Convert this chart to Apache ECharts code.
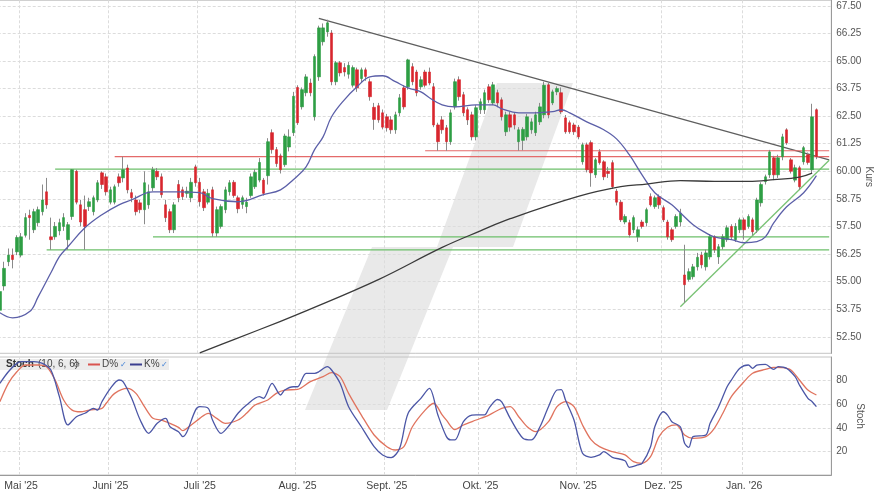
<!DOCTYPE html>
<html><head><meta charset="utf-8">
<script src="https://cdn.jsdelivr.net/npm/echarts@6/dist/echarts.min.js"></script>
<style>html,body{margin:0;padding:0;background:#fff}#c{width:880px;height:495px}</style>
</head><body><div id="c"></div>
<script>
// ---------- DATA ----------
const firstDay = '2025-04-24';
const lastDay = '2026-01-30';
const holidays = ['2025-05-01','2025-12-24','2025-12-25','2025-12-26','2025-12-31','2026-01-01'];
const monthLabels = {'2025-05':"Mai '25",'2025-06':"Juni '25",'2025-07':"Juli '25",'2025-08':"Aug. '25",
  '2025-09':"Sept. '25",'2025-10':"Okt. '25",'2025-11':"Nov. '25",'2025-12':"Dez. '25",'2026-01':"Jan. '26"};
const priceTicks = [52.5,53.75,55,56.25,57.5,58.75,60,61.25,62.5,63.75,65,66.25,67.5];
const stochTicks = [20,40,60,80];

// [open, high, low, close]
const ohlc = [
[53.7,54.8,53.3,54.55],[54.8,55.9,54.6,55.6],[55.9,56.5,55.7,56.2],[56.2,56.5,55.6,56.0],[56.35,57.1,56.2,57.0],
[56.2,57.2,56.1,57.03],[57.1,58.1,57.0,57.9],[58.0,58.26,56.9,57.9],[57.35,58.3,57.2,58.17],[57.67,58.4,57.5,58.26],
[58.17,59.4,58.0,58.7],[59.07,59.7,58.3,58.48],[57.03,57.9,56.44,56.9],[57.03,57.7,56.9,57.5],[57.3,57.85,57.1,57.67],
[57.5,58.1,57.3,57.9],[56.9,57.7,56.44,57.58],[57.95,60.1,57.8,60.07],[60.0,60.07,58.5,58.6],[58.48,58.7,57.5,57.7],
[58.26,58.9,56.44,57.5],[58.4,58.8,58.2,58.62],[58.17,58.9,58.0,58.8],[58.7,59.6,58.6,59.48],[59.93,60.0,59.2,59.4],
[59.75,59.9,58.9,59.07],[58.6,59.3,58.5,59.16],[58.6,59.4,58.5,59.3],[59.75,59.9,59.3,59.48],[59.7,60.66,59.5,60.07],
[60.15,60.3,59.0,59.16],[59.03,59.2,58.6,58.8],[58.7,58.9,58.0,58.17],[58.57,58.7,58.1,58.26],[58.26,60.0,57.6,59.48],
[58.48,59.4,58.3,59.07],[59.25,60.2,59.1,60.07],[60.0,60.15,59.6,59.75],[59.75,59.9,58.8,58.94],[58.48,58.7,57.7,57.9],
[58.17,58.3,57.2,57.35],[57.35,58.6,57.2,58.48],[59.4,59.6,58.6,58.8],[59.16,59.3,58.7,58.85],[59.0,59.3,58.8,59.1],
[58.8,59.7,58.6,59.5],[60.2,60.3,59.3,59.48],[59.5,59.7,58.4,58.62],[59.07,59.2,58.2,58.35],[58.6,59.2,58.5,59.0],
[59.16,59.3,57.03,57.2],[57.2,58.4,57.03,58.26],[57.5,58.5,57.4,58.4],[58.26,59.3,58.1,59.16],[59.07,59.6,58.9,59.48],
[59.5,59.6,58.8,58.9],[58.8,58.9,58.1,58.3],[58.5,58.9,58.3,58.8],[58.4,58.8,58.1,58.6],[58.9,59.9,58.8,59.75],
[59.3,60.1,59.2,59.95],[59.6,60.6,59.5,60.4],[59.6,59.7,58.9,59.0],[59.8,61.5,59.4,61.34],[61.75,61.9,60.8,60.98],
[60.98,61.1,60.2,60.35],[60.7,60.8,59.9,60.07],[60.3,61.7,60.2,61.6],[61.1,61.9,60.9,61.56],[61.75,63.6,61.6,63.4],
[63.8,63.9,62.1,62.2],[62.92,63.8,62.8,63.7],[63.56,64.4,63.4,64.28],[64.0,64.2,63.4,63.56],[62.47,65.3,62.3,65.2],
[64.28,66.6,64.1,66.5],[65.87,66.7,65.7,66.5],[66.32,66.87,66.1,66.73],[66.27,66.4,63.9,64.06],[64.06,65.0,63.9,64.92],
[64.92,65.0,64.3,64.46],[64.7,64.9,64.3,64.5],[64.4,64.95,64.2,64.8],[63.9,64.8,63.8,64.7],[64.6,64.7,63.6,63.78],
[64.2,64.7,64.0,64.6],[64.6,64.7,64.1,64.3],[64.06,64.2,63.2,63.38],[62.9,63.1,61.88,62.35],[62.97,63.1,62.2,62.33],
[62.65,62.8,61.9,62.0],[62.47,62.6,61.8,61.97],[62.33,62.5,61.7,61.88],[61.88,62.7,61.7,62.56],[62.65,63.5,62.5,63.33],
[63.78,63.9,62.8,62.92],[63.83,65.1,63.7,65.05],[64.74,64.9,63.9,64.06],[64.5,64.6,63.4,63.56],[63.83,64.3,63.7,64.15],
[64.5,64.6,63.8,63.9],[64.5,64.7,63.9,64.0],[63.83,64.0,62.0,62.1],[62.1,62.2,60.93,61.34],[62.33,62.5,61.7,61.88],
[61.97,62.1,60.93,61.34],[61.34,62.8,61.2,62.65],[62.92,64.2,62.8,64.06],[64.15,64.3,63.2,63.38],[63.47,63.6,62.5,62.65],
[62.79,62.9,62.1,62.33],[62.56,62.7,61.4,61.56],[61.56,63.0,61.4,62.88],[62.79,63.3,62.6,63.15],[62.79,63.7,62.6,63.56],
[63.83,63.95,63.1,63.24],[63.1,64.05,63.0,63.92],[63.56,63.7,62.9,63.1],[63.24,63.35,62.3,62.47],[61.79,62.7,61.6,62.56],
[62.56,62.7,61.8,62.0],[62.56,62.65,61.9,62.1],[61.34,62.0,60.93,61.88],[61.4,62.0,60.95,61.9],[61.56,62.6,61.4,62.47],
[61.88,62.4,61.7,62.24],[61.75,62.7,61.6,62.56],[62.24,63.1,62.1,62.92],[62.56,64.06,62.4,63.9],[63.92,64.0,62.4,62.56],
[63.1,63.7,63.0,63.6],[63.6,63.85,63.45,63.75],[63.56,63.8,62.6,62.7],[62.42,62.55,61.7,61.79],[62.2,62.3,61.7,61.79],
[62.1,62.2,61.65,61.79],[62.0,62.1,61.45,61.56],[60.43,61.3,60.3,61.2],[61.2,61.3,59.95,60.07],[61.3,61.4,59.3,59.93],
[59.84,60.6,59.7,60.52],[60.88,61.0,60.3,60.39],[60.43,60.5,59.6,59.75],[60.0,60.2,59.7,59.9],[60.39,60.5,59.2,59.3],
[59.1,59.2,58.45,58.6],[58.6,58.7,57.7,57.8],[57.7,58.05,57.6,57.95],[57.67,57.8,57.0,57.12],[57.35,58.0,57.2,57.9],
[57.03,57.5,56.8,57.35],[57.7,57.8,57.4,57.5],[57.67,58.35,57.5,58.26],[58.85,59.0,58.4,58.48],[58.4,58.9,58.3,58.8],
[58.85,58.95,58.3,58.48],[58.35,58.45,57.7,57.8],[57.7,57.8,56.9,57.03],[57.35,57.45,56.8,56.9],[57.5,58.05,57.4,57.95],
[57.7,58.3,57.5,58.1],[55.3,56.67,54.04,54.86],[55.1,55.6,55.0,55.45],[55.22,55.8,55.1,55.67],[55.67,56.3,55.5,56.1],
[56.2,56.35,55.6,55.76],[55.67,56.45,55.5,56.3],[56.12,57.15,56.0,57.03],[57.03,57.1,56.3,56.44],[56.12,56.7,55.8,56.58],
[56.58,57.15,56.45,57.03],[56.9,57.55,56.8,57.44],[57.5,57.6,56.9,57.03],[56.9,57.65,56.8,57.5],[57.35,57.9,57.2,57.8],
[57.8,57.9,56.9,57.35],[57.5,58.05,57.4,57.95],[57.8,57.9,57.1,57.26],[57.35,58.8,57.2,58.7],[58.57,59.5,58.4,59.4],
[59.53,59.85,59.4,59.75],[59.84,60.97,59.7,60.88],[60.61,60.7,59.6,59.84],[59.84,60.75,59.7,60.61],[60.66,61.7,60.5,61.56],
[61.88,61.95,61.2,61.29],[60.52,60.6,59.9,60.0],[59.6,60.3,59.5,60.16],[60.16,60.25,59.15,59.3],[60.43,61.15,60.3,61.07],
[60.75,60.85,60.3,60.4],[60.07,63.06,59.9,62.47],[62.79,62.85,60.55,60.66]
];

// [category index, value]
const ma20 = [[0,53.59],[3,53.36],[7,53.64],[9,54.31],[12,55.4],[14,56.13],[16,56.58],[20,57.44],[24,58.03],[28,58.48],
[31,58.71],[36,59.07],[42,59.07],[47,59.03],[50,58.76],[56,58.62],[62,58.94],[66,59.16],[69,59.62],[72,60.2],[74,60.98],
[76,61.56],[78,62.47],[81,63.24],[84,63.83],[87,64.28],[90,64.33],[93,64.06],[96,63.78],[99,63.6],[101,63.33],[104,63.01],
[107,62.92],[112,63.01],[116,63.01],[118,62.83],[122,62.65],[126,62.65],[130,62.7],[132,62.79],[134,62.65],[138,62.24],
[142,61.88],[145,61.47],[148,60.75],[151,59.84],[154,59.03],[158,58.48],[160,58.12],[163,57.58],[166,57.21],[168,57.03],
[172,56.9],[175,56.76],[178,56.81],[180,57.03],[182,57.67],[185,58.39],[189,59.03],[192,59.8]];
const ma200 = [[47,51.77],[55,52.37],[66,53.2],[71,53.59],[89,55.09],[104,56.55],[113,57.3],[120,57.85],[136,58.86],
[146,59.3],[152,59.42],[160,59.58],[168,59.54],[176,59.54],[182,59.62],[188,59.74],[191,59.92]];
const stochK = [[0,77.7],[2,87.5],[4,94.6],[5,96],[8,96],[10,94.6],[12,89],[14,66.4],[16,42.4],[18,49.4],[20,52.3],
[22,56.5],[23,55],[24,62.1],[26,73.4],[28,80.5],[29,79],[31,65],[33,46.6],[35,35.3],[37,43.8],[39,48],[40,40.9],[42,36.7],
[43,32.5],[44,36.7],[46,55],[47,57.9],[49,56.5],[50,46.6],[52,35.3],[54,42.4],[56,52.3],[58,59.3],[61,66.4],[62,65],
[64,77.7],[66,67.8],[67,72],[69,74.8],[70,74.8],[72,86.2],[74,86.2],[75,87.5],[77,91.8],[78,89],[80,77.7],[82,57.9],
[85,40.9],[88,24],[90,17],[92,14.7],[94,22.6],[96,52.3],[99,65],[101,73.4],[103,50.8],[105,32.5],[106,29.7],[107,29.7],
[109,45.2],[111,50.8],[112,51],[114,51],[115,56.5],[117,64],[118,62],[120,48],[123,31.1],[125,29.7],[127,40.9],[129,57.9],
[131,72],[132,72.3],[133,63.6],[135,46.6],[137,18.4],[139,15],[141,17],[142,19.8],[144,15],[147,12.1],[148,6.5],[150,8.5],
[151,9.9],[153,24],[154,40.9],[156,53.6],[157,50.8],[158,45.2],[160,40.9],[161,26.9],[162,23.4],[163,32.5],[166,33.9],
[167,43.8],[169,57.9],[171,74.8],[172,80.5],[174,90.4],[176,93.2],[177,90.4],[178,93.2],[180,93.8],[182,89.5],[183,91.8],
[185,90.4],[187,83.3],[188,76.3],[190,65],[191,62.1],[192,57.9]];
const stochD = [[0,62.1],[2,77.7],[4,87.5],[6,93.2],[9,93.2],[11,91.8],[13,80.5],[15,63.6],[17,55],[19,53.6],[21,55],
[24,56.5],[25,60.8],[27,69.2],[30,73.4],[32,69.2],[34,57.9],[36,48],[38,46.6],[40,43.8],[42,40.4],[43,37.6],[45,42.4],
[47,48],[49,52.3],[51,48],[53,43.8],[56,46.6],[58,52.3],[60,59.3],[63,63.6],[65,69.2],[67,72],[70,72.5],[73,79.1],[76,83.3],
[78,86.7],[80,83.3],[82,69.2],[85,50.8],[88,33.9],[91,24],[93,21.2],[95,24],[97,40.9],[100,55],[102,60.8],[104,51],
[105,46.5],[107,38.5],[109,42.4],[112,46.6],[115,50.8],[118,56.5],[120,57.9],[122,49.4],[124,40.9],[126,36.7],[129,45.2],
[131,57.9],[133,62.1],[135,57.9],[137,42.4],[139,30],[141,24],[144,19.8],[147,17],[149,11.3],[151,9.9],[153,15.5],
[155,32.5],[157,40.4],[159,42.4],[161,33.9],[163,31.1],[166,32.5],[168,39.6],[170,52.3],[172,66.4],[175,79.1],[177,86.2],
[180,89.5],[182,91.2],[184,91],[186,89],[188,80.5],[190,72],[192,67.8]];
const trendDown = [[75,66.93],[195,60.52]];
const trendUp = [[160,53.86],[195,60.5]];
const redLevels = [[100,60.93],[27,60.66]];
const greenLevels = [[13,60.1],[36,57.03],[11,56.44]];
const lastIndex = 195;

// ---------- BUILD ----------
const dates = [];
for (let t = Date.parse(firstDay + 'T00:00:00Z'); t <= Date.parse(lastDay + 'T00:00:00Z'); t += 86400000) {
  const d = new Date(t), wd = d.getUTCDay(), s = d.toISOString().slice(0, 10);
  if (wd !== 0 && wd !== 6 && holidays.indexOf(s) < 0) dates.push(s);
}
const monthStart = new Set();
dates.forEach((s, i) => { if (i > 0 && s.slice(0, 7) !== dates[i - 1].slice(0, 7)) monthStart.add(i); });

const UP = '#2e9e44', DOWN = '#d8262e', WICK = '#8a8a8a';
const gridLine = { show: true, lineStyle: { color: '#dcdcdc', type: [3, 2], width: 1 } };
const xSplit = { show: true, interval: (i) => monthStart.has(i), lineStyle: { color: '#dcdcdc', type: [3, 2], width: 1 } };

function seg(points, color, width) {
  return { type: 'line', xAxisIndex: 0, yAxisIndex: 0, data: points, showSymbol: false, silent: true,
    lineStyle: { color: color, width: width }, z: 3 };
}
const levelSeries = [];
redLevels.forEach(p => levelSeries.push(seg([[p[0], p[1]], [lastIndex, p[1]]], '#e46a6a', 1.2)));
greenLevels.forEach(p => levelSeries.push(seg([[p[0], p[1]], [lastIndex, p[1]]], '#6cbf6a', 1.2)));

const chart = echarts.init(document.getElementById('c'), null, { renderer: 'canvas' });
chart.setOption({
  animation: false,
  backgroundColor: '#fff',
  textStyle: { fontFamily: 'Liberation Sans, Arial, sans-serif' },
  grid: [
    { left: -2.27, right: 48.7, top: 0.3, height: 353, show: true, borderColor: '#c4c4c4', borderWidth: 1,
      containLabel: false, outerBoundsMode: 'none' },
    { left: -2.27, right: 48.7, top: 357, height: 118, show: true, borderColor: '#c4c4c4', borderWidth: 1,
      containLabel: false, outerBoundsMode: 'none' }
  ],
  xAxis: [
    { type: 'category', gridIndex: 0, data: dates, boundaryGap: true,
      axisLine: { show: false }, axisTick: { show: false }, axisLabel: { show: false }, splitLine: xSplit },
    { type: 'category', gridIndex: 1, data: dates, boundaryGap: true,
      axisLine: { show: true, lineStyle: { color: '#9a9a9a' } }, axisTick: { show: false },
      axisLabel: { interval: (i) => monthStart.has(i), formatter: (v) => monthLabels[v.slice(0, 7)] || '',
        color: '#444', fontSize: 10.5, margin: 6 },
      splitLine: xSplit }
  ],
  yAxis: [
    { type: 'value', gridIndex: 0, position: 'right', min: 51.75, max: 67.75, scale: true,
      axisLine: { show: true, lineStyle: { color: '#9a9a9a' } },
      axisTick: { show: false, customValues: priceTicks },
      axisLabel: { customValues: priceTicks, formatter: (v) => v.toFixed(2), color: '#555', fontSize: 10, margin: 5 },
      splitLine: gridLine,
      name: 'Kurs', nameLocation: 'middle', nameRotate: -90, nameGap: 32, nameMoveOverlap: false,
      nameTextStyle: { color: '#555', fontSize: 10 } },
    { type: 'value', gridIndex: 1, position: 'right', min: 0, max: 100,
      axisLine: { show: true, lineStyle: { color: '#9a9a9a' } },
      axisTick: { show: false, customValues: stochTicks },
      axisLabel: { customValues: stochTicks, color: '#555', fontSize: 10, margin: 5 },
      splitLine: gridLine,
      name: 'Stoch', nameLocation: 'middle', nameRotate: -90, nameGap: 23, nameMoveOverlap: false,
      nameTextStyle: { color: '#555', fontSize: 10 } }
  ],
  graphic: [
    { type: 'polygon', z: -10, silent: true,
      shape: { points: [[497,83],[573,83],[513,247],[453,247],[387,410],[305,410],[372,247],[437,247]] },
      style: { fill: '#e9e9e9' } },
    { type: 'rect', z: 1, silent: true, shape: { x: 0, y: 359, width: 169, height: 11 }, style: { fill: '#ececec' } },
    { type: 'text', z: 1, silent: true, x: 6, y: 364.5, style: { text: 'Stoch', fill: '#333', font: 'bold 10px Liberation Sans, Arial', verticalAlign: 'middle' } },
    { type: 'text', z: 1, silent: true, x: 38, y: 364.5, style: { text: '(10, 6, 6)', fill: '#444', font: '10px Liberation Sans, Arial', verticalAlign: 'middle' } },
    { type: 'text', z: 1, silent: true, x: 73, y: 364.5, style: { text: '⚙', fill: '#555', font: '8px DejaVu Sans', verticalAlign: 'middle' } },
    { type: 'line', z: 1, silent: true, shape: { x1: 88, y1: 364.5, x2: 100, y2: 364.5 }, style: { stroke: '#d9534f', lineWidth: 2 } },
    { type: 'text', z: 1, silent: true, x: 102, y: 364.5, style: { text: 'D%', fill: '#444', font: '10px Liberation Sans, Arial', verticalAlign: 'middle' } },
    { type: 'text', z: 1, silent: true, x: 120, y: 365, style: { text: '✓', fill: '#3d7fd6', font: '8px DejaVu Sans', verticalAlign: 'middle' } },
    { type: 'line', z: 1, silent: true, shape: { x1: 130, y1: 364.5, x2: 142, y2: 364.5 }, style: { stroke: '#3b3f8f', lineWidth: 2 } },
    { type: 'text', z: 1, silent: true, x: 144, y: 364.5, style: { text: 'K%', fill: '#444', font: '10px Liberation Sans, Arial', verticalAlign: 'middle' } },
    { type: 'text', z: 1, silent: true, x: 161, y: 365, style: { text: '✓', fill: '#3d7fd6', font: '8px DejaVu Sans', verticalAlign: 'middle' } }
  ],
  series: [
    { type: 'candlestick', name: 'wick', xAxisIndex: 0, yAxisIndex: 0, barWidth: 1, silent: true, z: 4,
      data: ohlc.map(r => [r[0], r[3], r[2], r[1]]),
      itemStyle: { color: WICK, color0: WICK, borderColor: WICK, borderColor0: WICK, borderWidth: 1 } },
    { type: 'candlestick', name: 'body', xAxisIndex: 0, yAxisIndex: 0, barWidth: 3, silent: true, z: 5,
      data: ohlc.map(r => [r[0], r[3], Math.min(r[0], r[3]), Math.max(r[0], r[3])]),
      itemStyle: { color: UP, color0: DOWN, borderColor: UP, borderColor0: DOWN, borderWidth: 0.6 } },
    { type: 'line', name: 'MA20', xAxisIndex: 0, yAxisIndex: 0, data: ma20, smooth: 0.4, showSymbol: false, silent: true,
      lineStyle: { color: '#5b5fa8', width: 1.3 }, z: 6 },
    { type: 'line', name: 'MA200', xAxisIndex: 0, yAxisIndex: 0, data: ma200, smooth: 0.4, showSymbol: false, silent: true,
      lineStyle: { color: '#3a3a3a', width: 1.3 }, z: 6 },
    seg(trendDown, '#5e5e5e', 1.3),
    seg(trendUp, '#78c274', 1.3),
    ...levelSeries,
    { type: 'line', name: 'D%', xAxisIndex: 1, yAxisIndex: 1, data: stochD, smooth: 0.3, showSymbol: false, silent: true,
      lineStyle: { color: '#e0735e', width: 1.3 }, z: 6 },
    { type: 'line', name: 'K%', xAxisIndex: 1, yAxisIndex: 1, data: stochK, smooth: 0.3, showSymbol: false, silent: true,
      lineStyle: { color: '#4b56a6', width: 1.3 }, z: 6 }
  ]
});
</script></body></html>
